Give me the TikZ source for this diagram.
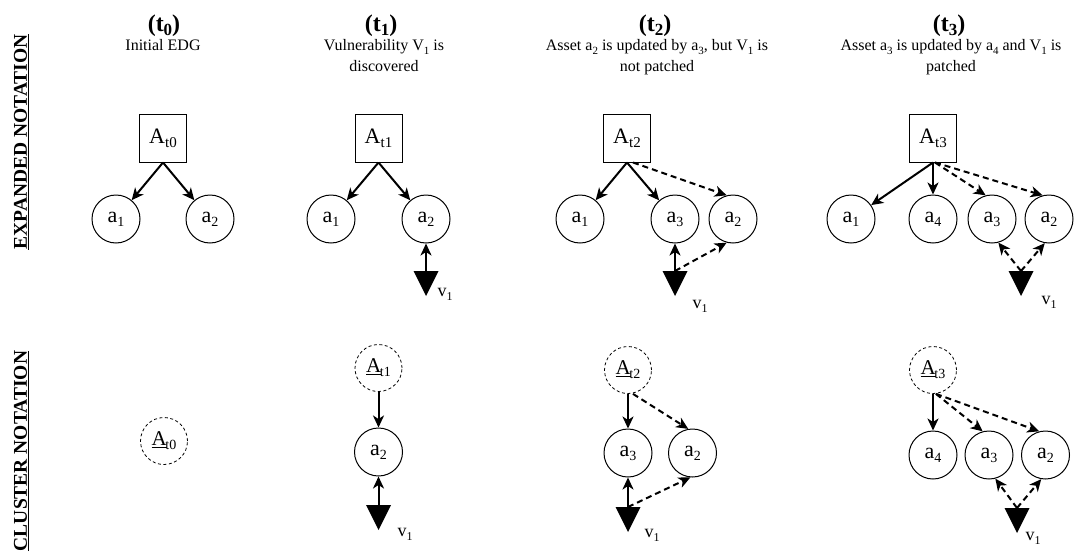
\documentclass[tikz,border=0pt]{standalone}
\usepackage{fontspec}
\setmainfont{Liberation Serif}
\usetikzlibrary{arrows.meta}
\newcommand\lowsub[2][13]{\raisebox{-4pt}{\fontsize{#1}{#1}\selectfont #2}}
\newcommand\clusterlab[1]{\underline{A}\kern-1.5pt\lowsub[14]{t#1}}
\newcommand\vulntri[3]{\fill (#2-12.5,#3) -- (#2+12.5,#3) -- (#2,#3+25) -- cycle; \coordinate (#1) at (#2,#3);}
\tikzset{
  asset/.style={circle, draw, line width=1pt, minimum size=48pt, inner sep=0pt, font=\fontsize{22}{26}\selectfont},
  aggbox/.style={rectangle, draw, line width=1pt, minimum width=47pt, minimum height=48pt, inner sep=0pt, font=\fontsize{22}{26}\selectfont},
  clus/.style={circle, draw, line width=0.8pt, dash pattern=on 3pt off 2.5pt, minimum size=47pt, inner sep=0pt, font=\fontsize{21}{25}\selectfont},
  dep/.style={line width=2pt, -{Stealth[length=12pt,width=11pt,inset=3.5pt]}},
  upd/.style={dep, dash pattern=on 6pt off 4pt},
  vlab/.style={font=\fontsize{18}{18}\selectfont, inner sep=0pt},
  ttl/.style={font=\bfseries\fontsize{24}{28}\selectfont, inner sep=0pt, anchor=base},
  subt/.style={font=\fontsize{16}{19}\selectfont, inner sep=0pt, anchor=base},
  side/.style={font=\bfseries\fontsize{19.5}{23}\selectfont, rotate=90, inner sep=0pt},
}
\begin{document}
\begin{tikzpicture}[x=1pt,y=-1pt]
\useasboundingbox (0,0) rectangle (1075,554);
% side labels
\node[side] (sideE) at (21.5,142) {\underline{EXPANDED NOTATION}};
\node[side] (sideC) at (21.5,451) {\underline{CLUSTER NOTATION}};
% ---------- t0 ----------
\node[ttl] (T0) at (164,31) {(t\lowsub[17]{0})};
\node[subt] (S0) at (163,50) {Initial EDG};
\node[aggbox] (At0) at (163,138) {A\lowsub[15]{t0}};
\node[asset] (e0a1) at (116,219) {a\lowsub[14]{1}};
\node[asset] (e0a2) at (210,219) {a\lowsub[14]{2}};
\draw[dep] (At0.south) -- (e0a1);
\draw[dep] (At0.south) -- (e0a2);
\node[clus] (Ct0) at (164,441) {\clusterlab{0}};
% ---------- t1 ----------
\node[ttl] (T1) at (381,31) {(t\lowsub[17]{1})};
\node[subt] (S1a) at (384,50) {Vulnerability V\lowsub[11]{1} is};
\node[subt] (S1b) at (384,71) {discovered};
\node[aggbox] (At1) at (378.5,138) {A\lowsub[15]{t1}};
\node[asset] (e1a1) at (331,219) {a\lowsub[14]{1}};
\node[asset] (e1a2) at (426,219) {a\lowsub[14]{2}};
\draw[dep] (At1.south) -- (e1a1);
\draw[dep] (At1.south) -- (e1a2);
\vulntri{e1v}{426}{271}
\node[vlab] (e1vl) at (445,294) {v\lowsub[12]{1}};
\draw[dep] (e1v) -- (e1a2);
\node[clus] (Ct1) at (378.5,368) {\clusterlab{1}};
\node[asset] (c1a2) at (378.5,452) {a\lowsub[14]{2}};
\draw[dep] (Ct1) -- (c1a2);
\vulntri{c1v}{378.5}{505}
\node[vlab] (c1vl) at (405,534) {v\lowsub[12]{1}};
\draw[dep] (c1v) -- (c1a2);
% ---------- t2 ----------
\node[ttl] (T2) at (655,31) {(t\lowsub[17]{2})};
\node[subt] (S2a) at (657,50) {Asset a\lowsub[11]{2} is updated by a\lowsub[11]{3}, but V\lowsub[11]{1} is};
\node[subt] (S2b) at (657,71) {not patched};
\node[aggbox] (At2) at (627,138) {A\lowsub[15]{t2}};
\node[asset] (e2a1) at (580,219) {a\lowsub[14]{1}};
\node[asset] (e2a3) at (675,219) {a\lowsub[14]{3}};
\node[asset] (e2a2) at (733,219) {a\lowsub[14]{2}};
\draw[dep] (At2.south) -- (e2a1);
\draw[dep] (At2.south) -- (e2a3);
\draw[upd] ([xshift=6pt]At2.south) -- (e2a2.105);
\vulntri{e2v}{675}{271}
\node[vlab] (e2vl) at (700,306) {v\lowsub[12]{1}};
\draw[dep] (e2v) -- (e2a3);
\draw[upd] (e2v) -- (e2a2.255);
\node[clus] (Ct2) at (628,370) {\clusterlab{2}};
\node[asset] (c2a3) at (628,453) {a\lowsub[14]{3}};
\node[asset] (c2a2) at (692.5,453) {a\lowsub[14]{2}};
\draw[dep] (Ct2) -- (c2a3);
\draw[upd] ([xshift=5pt]Ct2.south) -- (c2a2.100);
\vulntri{c2v}{628}{507}
\node[vlab] (c2vl) at (652,535) {v\lowsub[12]{1}};
\draw[dep] (c2v) -- (c2a3);
\draw[upd] (c2v) -- (c2a2.265);
% ---------- t3 ----------
\node[ttl] (T3) at (949,31) {(t\lowsub[17]{3})};
\node[subt] (S3a) at (951,50) {Asset a\lowsub[11]{3} is updated by a\lowsub[11]{4} and V\lowsub[11]{1} is};
\node[subt] (S3b) at (951,71) {patched};
\node[aggbox] (At3) at (933,138) {A\lowsub[15]{t3}};
\node[asset] (e3a1) at (851,219) {a\lowsub[14]{1}};
\node[asset] (e3a4) at (933,219) {a\lowsub[14]{4}};
\node[asset] (e3a3) at (992,219) {a\lowsub[14]{3}};
\node[asset] (e3a2) at (1049,219) {a\lowsub[14]{2}};
\draw[dep] (At3.south) -- (e3a1);
\draw[dep] (At3.south) -- (e3a4);
\draw[upd] ([xshift=2pt]At3.south) -- (e3a3.105);
\draw[upd] ([xshift=2pt]At3.south) -- (e3a2.105);
\vulntri{e3v}{1021}{271}
\node[vlab] (e3vl) at (1049,302) {v\lowsub[12]{1}};
\draw[upd] (e3v) -- (e3a3.285);
\draw[upd] (e3v) -- (e3a2.260);
\node[clus] (Ct3) at (933,370) {\clusterlab{3}};
\node[asset] (c3a4) at (933,455) {a\lowsub[14]{4}};
\node[asset] (c3a3) at (989,455) {a\lowsub[14]{3}};
\node[asset] (c3a2) at (1045.5,455) {a\lowsub[14]{2}};
\draw[dep] (Ct3) -- (c3a4);
\draw[upd] ([xshift=3pt]Ct3.south) -- (c3a3.105);
\draw[upd] ([xshift=3pt]Ct3.south) -- (c3a2.105);
\vulntri{c3v}{1017}{508}
\node[vlab] (c3vl) at (1033,538) {v\lowsub[12]{1}};
\draw[upd] (c3v) -- (c3a3.285);
\draw[upd] (c3v) -- (c3a2.260);
\end{tikzpicture}
\end{document}
